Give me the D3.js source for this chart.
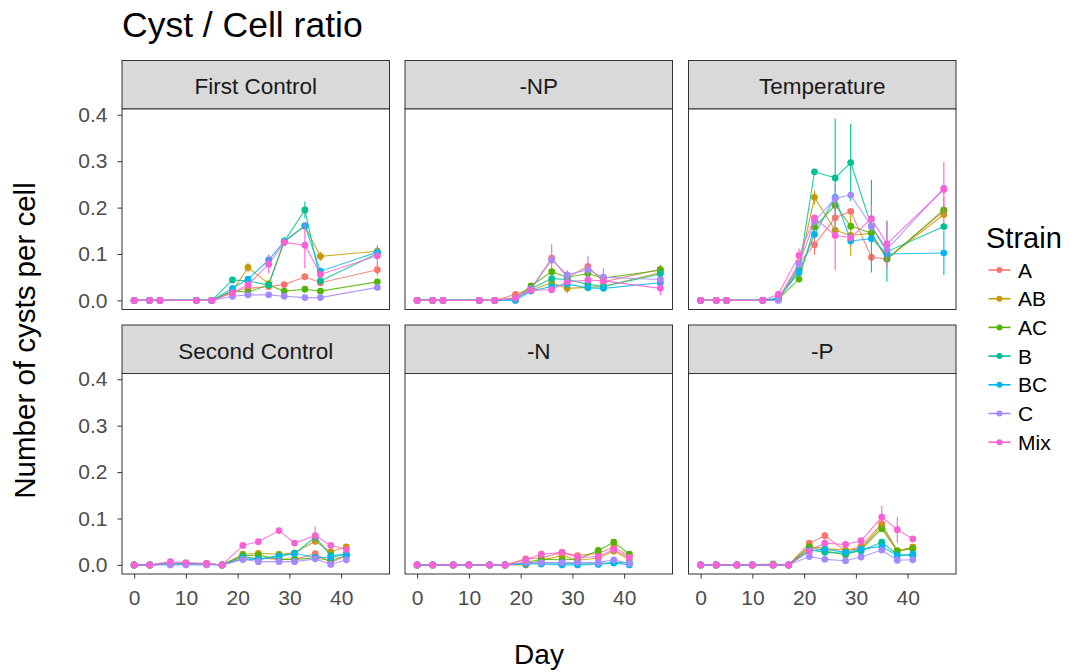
<!DOCTYPE html>
<html lang="en">
<head>
    <meta charset="UTF-8">
    <title>Cyst / Cell ratio</title>
</head>

<style>
body { margin: 0; background: white; }
text { font-family: 'Liberation Sans', Arial, sans-serif; }
.tick text { fill: #4d4d4d; font-size: 21px; }
.tick line { stroke: #333333; }
.strip { fill: #d9d9d9; stroke: #333333; stroke-width: 1; }
.frame { fill: none; stroke: #333333; stroke-width: 1; }
</style>

<svg width="1072" height="672"></svg>

<script src="https://d3js.org/d3.v7.min.js"></script>

<script>

    var strains = ["A", "AB", "AC", "B", "BC", "C", "Mix"];
    var strainColours = ["#F8766D", "#C49A00", "#53B400", "#00C094", "#00B6EB", "#A58AFF", "#FB61D7"];

    var panelNames = ["First Control", "-NP", "Temperature", "Second Control", "-N", "-P"];

    // first experiment (top row) and second experiment (bottom row) sampling days
    var daysFirst = [0, 3, 5, 12, 15, 19, 22, 26, 29, 33, 36, 47];
    var daysSecond = [0, 3, 7, 10, 14, 17, 21, 24, 28, 31, 35, 38, 41];

    var yTicks = [0, 0.1, 0.2, 0.3, 0.4];
    var xTicks = [0, 10, 20, 30, 40];

    var firstControl = {
        A:   [0, 0, 0, 0, 0, 0.018, 0.026, 0.030, 0.034, 0.051, 0.038, 0.066],
        AB:  [0, 0, 0, 0, 0, 0.020, 0.071, 0.036, 0.127, 0.160, 0.095, 0.106],
        AC:  [0, 0, 0, 0, 0, 0.020, 0.018, 0.033, 0.020, 0.024, 0.020, 0.040],
        B:   [0, 0, 0, 0, 0, 0.044, 0.042, 0.033, 0.127, 0.195, 0.042, 0.101],
        BC:  [0, 0, 0, 0, 0, 0.026, 0.046, 0.087, 0.127, 0.161, 0.063, 0.104],
        C:   [0, 0, 0, 0, 0, 0.009, 0.012, 0.012, 0.009, 0.006, 0.006, 0.028],
        Mix: [0, 0, 0, 0, 0, 0.016, 0.034, 0.078, 0.125, 0.119, 0.056, 0.096]
    };

    var minusNP = {
        A:   [0, 0, 0, 0, 0, 0.013, 0.025, 0.091, 0.050, 0.073, 0.040, 0.067],
        AB:  [0, 0, 0, 0, 0, 0.005, 0.022, 0.038, 0.026, 0.028, 0.030, 0.060],
        AC:  [0, 0, 0, 0, 0, 0.005, 0.031, 0.062, 0.050, 0.058, 0.048, 0.065],
        B:   [0, 0, 0, 0, 0, 0.003, 0.025, 0.047, 0.045, 0.035, 0.030, 0.057],
        BC:  [0, 0, 0, 0, 0, 0.000, 0.020, 0.030, 0.035, 0.027, 0.026, 0.038],
        C:   [0, 0, 0, 0, 0, 0.005, 0.025, 0.087, 0.055, 0.066, 0.050, 0.045],
        Mix: [0, 0, 0, 0, 0, 0.005, 0.022, 0.023, 0.040, 0.044, 0.042, 0.026]
    };

    var temperature = {
        A:   [0, 0, 0, 0, 0.003, 0.080, 0.120, 0.178, 0.192, 0.093, 0.089, 0.193],
        AB:  [0, 0, 0, 0, 0.003, 0.070, 0.222, 0.151, 0.140, 0.145, 0.090, 0.185],
        AC:  [0, 0, 0, 0, 0.003, 0.046, 0.158, 0.205, 0.160, 0.145, 0.089, 0.195],
        B:   [0, 0, 0, 0, 0.003, 0.065, 0.277, 0.264, 0.297, 0.160, 0.105, 0.159],
        BC:  [0, 0, 0, 0, 0.005, 0.060, 0.142, 0.222, 0.128, 0.133, 0.100, 0.102],
        C:   [0, 0, 0, 0, 0.000, 0.077, 0.170, 0.220, 0.227, 0.160, 0.110, 0.242],
        Mix: [0, 0, 0, 0, 0.013, 0.097, 0.178, 0.140, 0.135, 0.176, 0.122, 0.239]
    };

    var secondControl = {
        A:   [0, 0, 0.003, 0.003, 0.002, 0, 0.015, 0.015, 0.012, 0.012, 0.024, 0.005, 0.020],
        AB:  [0, 0, 0.003, 0.003, 0.002, 0, 0.023, 0.025, 0.023, 0.026, 0.051, 0.028, 0.039],
        AC:  [0, 0, 0.003, 0.003, 0.002, 0, 0.020, 0.021, 0.012, 0.012, 0.015, 0.010, 0.019],
        B:   [0, 0, 0.002, 0.002, 0.002, 0, 0.018, 0.012, 0.020, 0.024, 0.060, 0.020, 0.023],
        BC:  [0, 0, 0.002, 0.002, 0.002, 0, 0.012, 0.012, 0.018, 0.025, 0.016, 0.016, 0.023],
        C:   [0, 0, 0, 0, 0, 0, 0.012, 0.007, 0.007, 0.007, 0.013, 0.001, 0.011],
        Mix: [0, 0, 0.007, 0.005, 0.003, 0, 0.042, 0.050, 0.074, 0.047, 0.063, 0.042, 0.033]
    };

    var minusN = {
        A:   [0, 0, 0, 0, 0, 0, 0.013, 0.015, 0.027, 0.020, 0.025, 0.038, 0.020],
        AB:  [0, 0, 0, 0, 0, 0, 0.000, 0.010, 0.020, 0.010, 0.015, 0.030, 0.012],
        AC:  [0, 0, 0, 0, 0, 0, 0.005, 0.012, 0.011, 0.012, 0.031, 0.049, 0.023],
        B:   [0, 0, 0, 0, 0, 0, 0.004, 0.004, 0.004, 0.002, 0.003, 0.005, 0.005],
        BC:  [0, 0, 0, 0, 0, 0, 0.002, 0.002, 0.000, 0.000, 0.001, 0.004, 0.000],
        C:   [0, 0, 0, 0, 0, 0, 0.005, 0.005, 0.005, 0.005, 0.005, 0.011, 0.003],
        Mix: [0, 0, 0, 0, 0, 0, 0.011, 0.023, 0.027, 0.016, 0.018, 0.033, 0.016]
    };

    var minusP = {
        A:   [0, 0, 0, 0, 0, 0, 0.047, 0.063, 0.030, 0.040, 0.089, 0.030, 0.038],
        AB:  [0, 0, 0, 0, 0, 0, 0.040, 0.035, 0.032, 0.035, 0.085, 0.030, 0.038],
        AC:  [0, 0, 0, 0, 0.002, 0, 0.039, 0.030, 0.022, 0.033, 0.078, 0.030, 0.035],
        B:   [0, 0, 0, 0, 0, 0, 0.033, 0.027, 0.025, 0.030, 0.049, 0.022, 0.020],
        BC:  [0, 0, 0, 0, 0, 0, 0.030, 0.034, 0.027, 0.034, 0.040, 0.020, 0.023],
        C:   [0, 0, 0, 0, 0, 0, 0.018, 0.012, 0.009, 0.017, 0.032, 0.010, 0.011],
        Mix: [0, 0, 0, 0, 0, 0, 0.030, 0.047, 0.044, 0.052, 0.103, 0.076, 0.056]
    };

    // visible error bars: [panel, strain, day, sd]
    var errorBars = [
        ["First Control", "AB", 22, 0.010], ["First Control", "BC", 26, 0.012],
        ["First Control", "Mix", 26, 0.020], ["First Control", "B", 29, 0.010],
        ["First Control", "B", 33, 0.018], ["First Control", "Mix", 33, 0.050],
        ["First Control", "AB", 36, 0.010], ["First Control", "A", 47, 0.012],
        ["First Control", "BC", 47, 0.015], ["First Control", "Mix", 47, 0.020],
        ["-NP", "A", 26, 0.030], ["-NP", "C", 29, 0.010], ["-NP", "AB", 29, 0.010],
        ["-NP", "C", 33, 0.030], ["-NP", "C", 36, 0.020],
        ["-NP", "AC", 47, 0.012], ["-NP", "Mix", 47, 0.015],
        ["Temperature", "Mix", 19, 0.015], ["Temperature", "A", 22, 0.022],
        ["Temperature", "AB", 22, 0.015], ["Temperature", "B", 26, 0.128],
        ["Temperature", "Mix", 26, 0.075], ["Temperature", "C", 26, 0.030],
        ["Temperature", "B", 29, 0.083], ["Temperature", "AB", 29, 0.045],
        ["Temperature", "B", 33, 0.100], ["Temperature", "Mix", 33, 0.030],
        ["Temperature", "B", 36, 0.065], ["Temperature", "Mix", 36, 0.050],
        ["Temperature", "A", 47, 0.030], ["Temperature", "Mix", 47, 0.060],
        ["Temperature", "BC", 47, 0.048],
        ["Second Control", "B", 35, 0.010], ["Second Control", "Mix", 35, 0.020],
        ["-N", "AC", 38, 0.005],
        ["-P", "A", 24, 0.008], ["-P", "Mix", 35, 0.024], ["-P", "Mix", 38, 0.028]
    ];

    var panelData = [firstControl, minusNP, temperature, secondControl, minusN, minusP];
    var panelDays = [daysFirst, daysFirst, daysFirst, daysSecond, daysSecond, daysSecond];

    var translate = function(left, top) {
        return "translate(" + left + "," + top + ")";
    };

    var svg = d3.select("svg");

    var colLeft = [122, 405, 688.5],
        rowTop = [60.5, 325],
        panelWidth = 267.5,
        stripHeight = 48.5,
        panelHeight = 200.5;

    var x = d3.scaleLinear().domain([-2.35, 49.35]).range([0, panelWidth]);
    var y = d3.scaleLinear().domain([-0.0196, 0.4124]).range([panelHeight, 0]);
    var colour = d3.scaleOrdinal().domain(strains).range(strainColours);

    var line = d3.line()
        .x(function(d) { return x(d.day); })
        .y(function(d) { return y(d.value); });

    panelNames.forEach(function(name, p) {
        var row = Math.floor(p / 3), col = p % 3;
        var g = svg.append("g").attr("transform", translate(colLeft[col], rowTop[row]));

        g.append("rect").attr("class", "strip")
            .attr("width", panelWidth).attr("height", stripHeight);
        g.append("text")
            .attr("x", panelWidth / 2).attr("y", 33.5)
            .attr("text-anchor", "middle")
            .style("font-size", "22.5px").style("fill", "#1a1a1a")
            .text(name);

        var plot = g.append("g").attr("transform", translate(0, stripHeight));
        plot.append("rect").attr("width", panelWidth).attr("height", panelHeight).attr("fill", "white");

        var series = strains.map(function(s) {
            return {
                strain: s,
                points: panelDays[p].map(function(day, i) { return {day: day, value: panelData[p][s][i]}; })
            };
        });

        var errs = errorBars.filter(function(e) { return e[0] == name; }).map(function(e) {
            return {strain: e[1], day: e[2], value: panelData[p][e[1]][panelDays[p].indexOf(e[2])], sd: e[3]};
        });

        var groups = plot.selectAll(".series")
            .data(series)
            .enter()
            .append("g")
            .attr("class", "series");

        groups.each(function(d) {
            var grp = d3.select(this);
            errs.filter(function(e) { return e.strain == d.strain; }).forEach(function(e) {
                grp.append("line")
                    .attr("x1", x(e.day)).attr("x2", x(e.day))
                    .attr("y1", y(e.value - e.sd)).attr("y2", y(e.value + e.sd))
                    .attr("stroke", colour(d.strain)).attr("stroke-width", 1.1);
            });
            grp.append("path")
                .datum(d.points)
                .attr("d", line)
                .attr("fill", "none")
                .attr("stroke", colour(d.strain))
                .attr("stroke-opacity", 0.85)
                .attr("stroke-width", 1.1);
            grp.selectAll("circle")
                .data(d.points)
                .enter()
                .append("circle")
                .attr("cx", function(pt) { return x(pt.day); })
                .attr("cy", function(pt) { return y(pt.value); })
                .attr("r", 3.4)
                .attr("fill", colour(d.strain));
        });

        plot.append("rect").attr("class", "frame").attr("width", panelWidth).attr("height", panelHeight);

        if (col == 0) {
            plot.append("g")
                .call(d3.axisLeft(y).tickValues(yTicks).tickFormat(d3.format(".1f")).tickSize(4.5).tickPadding(10))
                .call(function(a) { a.select(".domain").remove(); });
        }
        if (row == 1) {
            plot.append("g")
                .attr("transform", translate(0, panelHeight))
                .call(d3.axisBottom(x).tickValues(xTicks).tickSize(4.5).tickPadding(11.5))
                .call(function(a) { a.select(".domain").remove(); });
        }
    });

    svg.selectAll(".tick text").style("font-family", null).style("font-size", "21px");

    // titles
    svg.append("text")
        .attr("x", 122).attr("y", 37)
        .style("font-size", "35.5px").style("fill", "black")
        .text("Cyst / Cell ratio");

    svg.append("text")
        .attr("transform", translate(35, 340.5) + " rotate(-90)")
        .attr("text-anchor", "middle")
        .style("font-size", "29.5px").style("fill", "black")
        .text("Number of cysts per cell");

    svg.append("text")
        .attr("x", 539).attr("y", 664)
        .attr("text-anchor", "middle")
        .style("font-size", "28px").style("fill", "black")
        .text("Day");

    // legend
    var legend = svg.append("g").attr("transform", translate(986, 0));
    legend.append("text")
        .attr("x", 0).attr("y", 248)
        .style("font-size", "29px").style("fill", "black")
        .text("Strain");

    var keys = legend.selectAll(".key")
        .data(strains)
        .enter()
        .append("g")
        .attr("class", "key")
        .attr("transform", function(d, i) { return translate(0, 270 + i * 28.7); });

    keys.append("line")
        .attr("x1", 2.5).attr("x2", 24.5)
        .attr("stroke", function(d) { return colour(d); })
        .attr("stroke-width", 1.6);
    keys.append("circle")
        .attr("cx", 13.5).attr("r", 3)
        .attr("fill", function(d) { return colour(d); });
    keys.append("text")
        .attr("x", 32).attr("dy", "0.36em")
        .style("font-size", "21px").style("fill", "black")
        .text(function(d) { return d; });

</script>

</html>
